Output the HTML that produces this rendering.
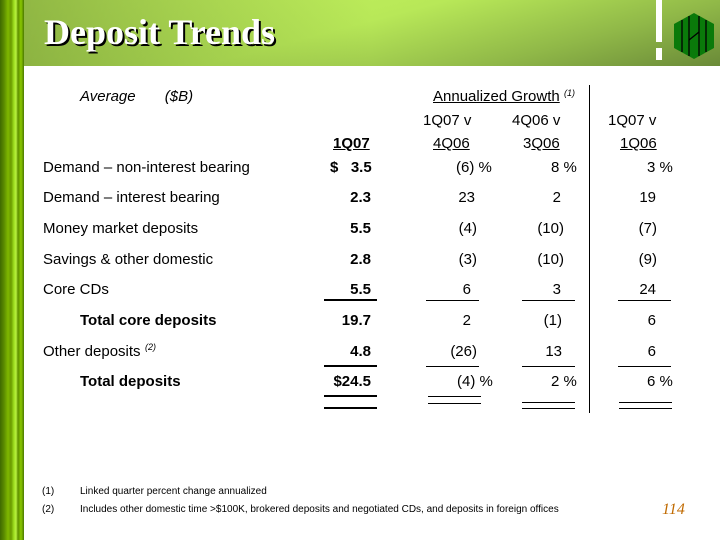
<!DOCTYPE html>
<html><head><meta charset="utf-8"><style>
body{margin:0;width:720px;height:540px;position:relative;background:#fff;font-family:"Liberation Sans",Arial,sans-serif;overflow:hidden}
.a{position:absolute;font-size:15px;color:#000;white-space:nowrap;line-height:20px}
.r{text-align:right}
.b{font-weight:bold}
.l{position:absolute;height:1px;background:#000}
.L{position:absolute;height:2px;background:#000}
.s{position:absolute;font-size:9px;font-style:italic;line-height:10px}
</style></head><body>
<div style="position:absolute;left:0;top:0;width:24px;height:540px;background:linear-gradient(90deg,#3f6a00 0,#5a8a00 4px,#7fb800 8px,#6a9a00 11px,#9fe020 14px,#b8f040 16px,#5f9000 18px,#8ac800 21px,#4a7800 24px)"></div>
<div style="position:absolute;left:24px;top:0;width:696px;height:66px;background:linear-gradient(165deg,#c8f860 0%,#b8e858 45%,#90b848 75%,#6a8a38 100%)"></div>
<div style="position:absolute;left:24px;top:0;width:696px;height:66px;background:linear-gradient(90deg,rgba(90,120,40,0.5) 0%,rgba(90,120,40,0) 50%)"></div>
<div style="position:absolute;left:44px;top:10px;font-family:'Liberation Serif',serif;font-weight:bold;font-size:36px;line-height:44px;color:#fff;text-shadow:2px 2px 0 #000">Deposit Trends</div>
<div style="position:absolute;left:656px;top:0;width:6px;height:42px;background:#fff"></div>
<div style="position:absolute;left:656px;top:48px;width:6px;height:12px;background:#fff"></div>
<svg style="position:absolute;left:672px;top:12px" width="44" height="48"><polygon points="22,1 42,12 42,36 22,47 2,36 2,12" fill="#0a7a0a"/><g stroke="#000" stroke-width="1.3"><line x1="10" y1="8" x2="10" y2="40"/><line x1="17" y1="4" x2="17" y2="44"/><line x1="27" y1="4" x2="27" y2="44"/><line x1="34" y1="8" x2="34" y2="40"/><path d="M17 28 L27 20" fill="none"/></g></svg>

<div class="a" style="left:80px;top:87px;font-style:italic">Average&nbsp;&nbsp;&nbsp;&nbsp;&nbsp;&nbsp;&nbsp;($B)</div>
<div class="a" style="left:433px;top:87px;text-decoration:underline">Annualized Growth</div><div class="s" style="left:564px;top:88px">(1)</div>
<div style="position:absolute;left:589px;top:85px;width:1px;height:328px;background:#000"></div>
<div class="a" style="left:423px;top:111px">1Q07 v</div>
<div class="a" style="left:512px;top:111px">4Q06 v</div>
<div class="a" style="left:608px;top:111px">1Q07 v</div>
<div class="a b" style="left:333px;top:134px;text-decoration:underline">1Q07</div>
<div class="a" style="left:433px;top:134px;text-decoration:underline">4Q06</div>
<div class="a" style="left:523px;top:134px">3<u>Q06</u></div>
<div class="a" style="left:620px;top:134px;text-decoration:underline">1Q06</div>

<div class="a" style="left:43px;top:158px">Demand – non-interest bearing</div>
<div class="a" style="left:43px;top:188px">Demand – interest bearing</div>
<div class="a" style="left:43px;top:219px">Money market deposits</div>
<div class="a" style="left:43px;top:250px">Savings &amp; other domestic</div>
<div class="a" style="left:43px;top:280px">Core CDs</div>
<div class="a b" style="left:80px;top:311px">Total core deposits</div>
<div class="a" style="left:43px;top:342px">Other deposits</div><div class="s" style="left:145px;top:342px">(2)</div>
<div class="a b" style="left:80px;top:372px">Total deposits</div>

<div class="a b" style="left:330px;top:158px">$&nbsp;&nbsp;&nbsp;3.5</div>
<div class="a b r" style="left:300px;width:71px;top:188px">2.3</div>
<div class="a b r" style="left:300px;width:71px;top:219px">5.5</div>
<div class="a b r" style="left:300px;width:71px;top:250px">2.8</div>
<div class="a b r" style="left:300px;width:71px;top:280px">5.5</div>
<div class="a b r" style="left:300px;width:71px;top:311px">19.7</div>
<div class="a b r" style="left:300px;width:71px;top:342px">4.8</div>
<div class="a b r" style="left:300px;width:71px;top:372px">$24.5</div>

<div class="a" style="left:456px;top:158px">(6) %</div>
<div class="a r" style="left:400px;width:75px;top:188px">23</div>
<div class="a r" style="left:400px;width:77px;top:219px">(4)</div>
<div class="a r" style="left:400px;width:77px;top:250px">(3)</div>
<div class="a r" style="left:400px;width:71px;top:280px">6</div>
<div class="a r" style="left:400px;width:71px;top:311px">2</div>
<div class="a r" style="left:400px;width:77px;top:342px">(26)</div>
<div class="a" style="left:457px;top:372px">(4) %</div>

<div class="a" style="left:551px;top:158px">8 %</div>
<div class="a r" style="left:500px;width:61px;top:188px">2</div>
<div class="a r" style="left:500px;width:64px;top:219px">(10)</div>
<div class="a r" style="left:500px;width:64px;top:250px">(10)</div>
<div class="a r" style="left:500px;width:61px;top:280px">3</div>
<div class="a r" style="left:500px;width:62px;top:311px">(1)</div>
<div class="a r" style="left:500px;width:62px;top:342px">13</div>
<div class="a" style="left:551px;top:372px">2 %</div>

<div class="a" style="left:647px;top:158px">3 %</div>
<div class="a r" style="left:600px;width:56px;top:188px">19</div>
<div class="a r" style="left:600px;width:57px;top:219px">(7)</div>
<div class="a r" style="left:600px;width:57px;top:250px">(9)</div>
<div class="a r" style="left:600px;width:56px;top:280px">24</div>
<div class="a r" style="left:600px;width:56px;top:311px">6</div>
<div class="a r" style="left:600px;width:56px;top:342px">6</div>
<div class="a" style="left:647px;top:372px">6 %</div>

<div class="L" style="left:324px;width:53px;top:299px"></div>
<div class="L" style="left:324px;width:53px;top:365px"></div>
<div class="L" style="left:324px;width:53px;top:395px"></div>
<div class="L" style="left:324px;width:53px;top:407px"></div>
<div class="l" style="left:426px;width:53px;top:300px"></div>
<div class="l" style="left:522px;width:53px;top:300px"></div>
<div class="l" style="left:618px;width:53px;top:300px"></div>
<div class="l" style="left:426px;width:53px;top:366px"></div>
<div class="l" style="left:522px;width:53px;top:366px"></div>
<div class="l" style="left:618px;width:53px;top:366px"></div>
<div class="l" style="left:428px;width:53px;top:396px"></div><div class="l" style="left:428px;width:53px;top:403px"></div>
<div class="l" style="left:522px;width:53px;top:402px"></div><div class="l" style="left:522px;width:53px;top:408px"></div>
<div class="l" style="left:619px;width:53px;top:402px"></div><div class="l" style="left:619px;width:53px;top:408px"></div>

<div class="a" style="left:42px;top:486px;font-size:10px;line-height:11px">(1)</div>
<div class="a" style="left:80px;top:486px;font-size:10px;line-height:11px">Linked quarter percent change annualized</div>
<div class="a" style="left:42px;top:504px;font-size:10px;line-height:11px">(2)</div>
<div class="a" style="left:80px;top:504px;font-size:10px;line-height:11px">Includes other domestic time &gt;$100K, brokered deposits and negotiated CDs, and deposits in foreign offices</div>
<div class="a" style="left:662px;top:500px;font-family:'Liberation Serif',serif;font-style:italic;font-size:16px;color:#c06a00">114</div>
</body></html>
